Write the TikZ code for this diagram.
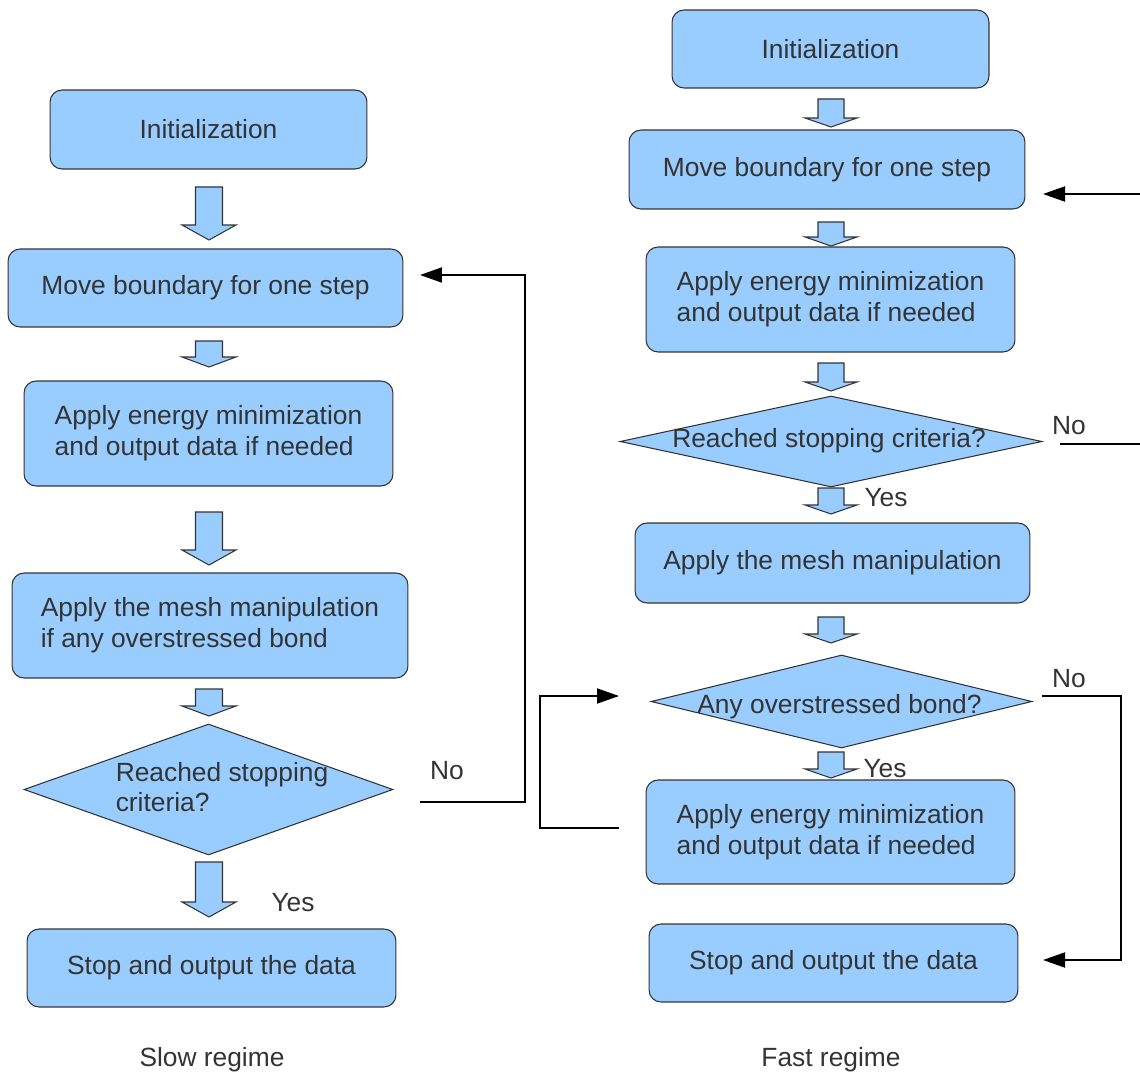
\documentclass[tikz,border=0pt]{standalone}
\usepackage{fontspec}
\setmainfont{Liberation Sans}
\usetikzlibrary{arrows.meta, shapes.geometric}

\definecolor{boxblue}{HTML}{99CCFF}
\definecolor{inkgray}{HTML}{333333}

\tikzset{
  flowbox/.style={draw=inkgray, line width=0.6pt, fill=boxblue, rounded corners=0.24cm,
    align=left, text=inkgray, font=\fontsize{15}{17.5}\selectfont, inner sep=0pt},
  flowdiamond/.style={draw=inkgray, line width=0.6pt, fill=boxblue, diamond, inner sep=0pt},
  flowtext/.style={align=left, text=inkgray, font=\fontsize{15}{17.5}\selectfont, inner sep=0pt},
  conn/.style={draw=black, line width=1.1pt},
  tip/.style={-{Triangle[length=0.44cm, width=0.3cm]}}
}

% block arrow: centre x, top, bottom, head length, shaft half, head half
\newcommand{\blockarrow}[6]{%
  \filldraw[fill=boxblue, draw=inkgray, line width=0.6pt]
    (#1-#5,#2) -- (#1+#5,#2) -- (#1+#5,#3-#4) -- (#1+#6,#3-#4) -- (#1,#3)
    -- (#1-#6,#3-#4) -- (#1-#5,#3-#4) -- cycle;}

\begin{document}
\begin{tikzpicture}[x=0.02cm, y=-0.02cm]
\useasboundingbox (0,0) rectangle (1140,1078);

% slow regime
\node (linit) at (208.5,129.5) [flowbox, minimum width=6.34cm, minimum height=1.58cm] {Initialization};
\node (lmove) at (205.5,288) [flowbox, minimum width=7.9cm, minimum height=1.56cm] {Move boundary for one step};
\node (lapply) at (208.5,433.5) [flowbox, minimum width=7.38cm, minimum height=2.1cm] {Apply energy minimization\\and output data if needed};
\node (lmesh) at (210,625.5) [flowbox, minimum width=7.92cm, minimum height=2.1cm] {Apply the mesh manipulation\\if any overstressed bond};
\node (lcheck) at (208.5,789.5) [flowdiamond, minimum width=7.38cm, minimum height=2.62cm] {};
\node (lchecktext) at (222,787) [flowtext] {Reached stopping\\criteria?};
\node (lstop) at (211.5,968) [flowbox, minimum width=7.38cm, minimum height=1.56cm] {Stop and output the data};

\blockarrow{209}{187}{240}{15}{13.5}{27}
\blockarrow{209}{341}{367}{10}{13.5}{27}
\blockarrow{209}{512}{565}{15}{13.5}{27}
\blockarrow{209}{689}{716}{10}{13.5}{27}
\blockarrow{209}{862}{917}{15}{13.5}{27}

\coordinate (lno) at (420,802);
\coordinate (lturn) at (525,275);
\coordinate (ltip) at (420,275);
\draw[conn, tip] (lno) -| (lturn) -- (ltip);

\node (lnolabel) at (447,771) [flowtext] {No};
\node (lyeslabel) at (293,903) [flowtext] {Yes};
\node (slowlabel) at (212,1060) [flowtext] {Slow regime};

% fast regime
\node (rinit) at (830.5,49) [flowbox, minimum width=6.34cm, minimum height=1.56cm] {Initialization};
\node (rmove) at (827,169.5) [flowbox, minimum width=7.92cm, minimum height=1.58cm] {Move boundary for one step};
\node (rapply) at (830.5,299.5) [flowbox, minimum width=7.38cm, minimum height=2.1cm] {Apply energy minimization\\and output data if needed};
\node (rcheck) at (831,441.5) [flowdiamond, minimum width=8.44cm, minimum height=1.82cm] {};
\node (rchecktext) at (829,441) [flowtext] {Reached stopping criteria?};
\node (rmesh) at (832.5,563) [flowbox, minimum width=7.9cm, minimum height=1.6cm] {Apply the mesh manipulation};
\node (rbond) at (841.5,701.5) [flowdiamond, minimum width=7.62cm, minimum height=1.86cm] {};
\node (rbondtext) at (839.5,707) [flowtext] {Any overstressed bond?};
\node (rapplyb) at (830.5,832) [flowbox, minimum width=7.38cm, minimum height=2.08cm] {Apply energy minimization\\and output data if needed};
\node (rstop) at (833.5,963) [flowbox, minimum width=7.38cm, minimum height=1.56cm] {Stop and output the data};

\blockarrow{831}{99}{127}{9}{13}{26}
\blockarrow{831}{222}{246}{9}{13}{26}
\blockarrow{831}{363}{391}{9}{13}{26}
\blockarrow{831}{488}{514}{9}{13}{26}
\blockarrow{831}{617}{643}{9}{13}{26}
\blockarrow{831}{752}{778}{9}{13}{26}

\coordinate (rnostart) at (1060,444);
\coordinate (rnoend) at (1140,444);
\draw[conn] (rnostart) -- (rnoend);
\coordinate (rbackstart) at (1140,194);
\coordinate (rbacktip) at (1043,194);
\draw[conn, tip] (rbackstart) -- (rbacktip);

\coordinate (rbondno) at (1042,696);
\coordinate (rbondturn) at (1121,960);
\coordinate (rstoptip) at (1043,960);
\draw[conn, tip] (rbondno) -| (rbondturn) -- (rstoptip);

\coordinate (rloopstart) at (619,828);
\coordinate (rloopturn) at (540,696);
\coordinate (rlooptip) at (619,696);
\draw[conn, tip] (rloopstart) -| (rloopturn) -- (rlooptip);

\node (rnolabel) at (1069,426) [flowtext] {No};
\node (ryeslabel) at (886,498) [flowtext] {Yes};
\node (rbondnolabel) at (1069,679) [flowtext] {No};
\node (rbondyeslabel) at (885,769) [flowtext] {Yes};
\node (fastlabel) at (831,1060) [flowtext] {Fast regime};
\end{tikzpicture}
\end{document}
